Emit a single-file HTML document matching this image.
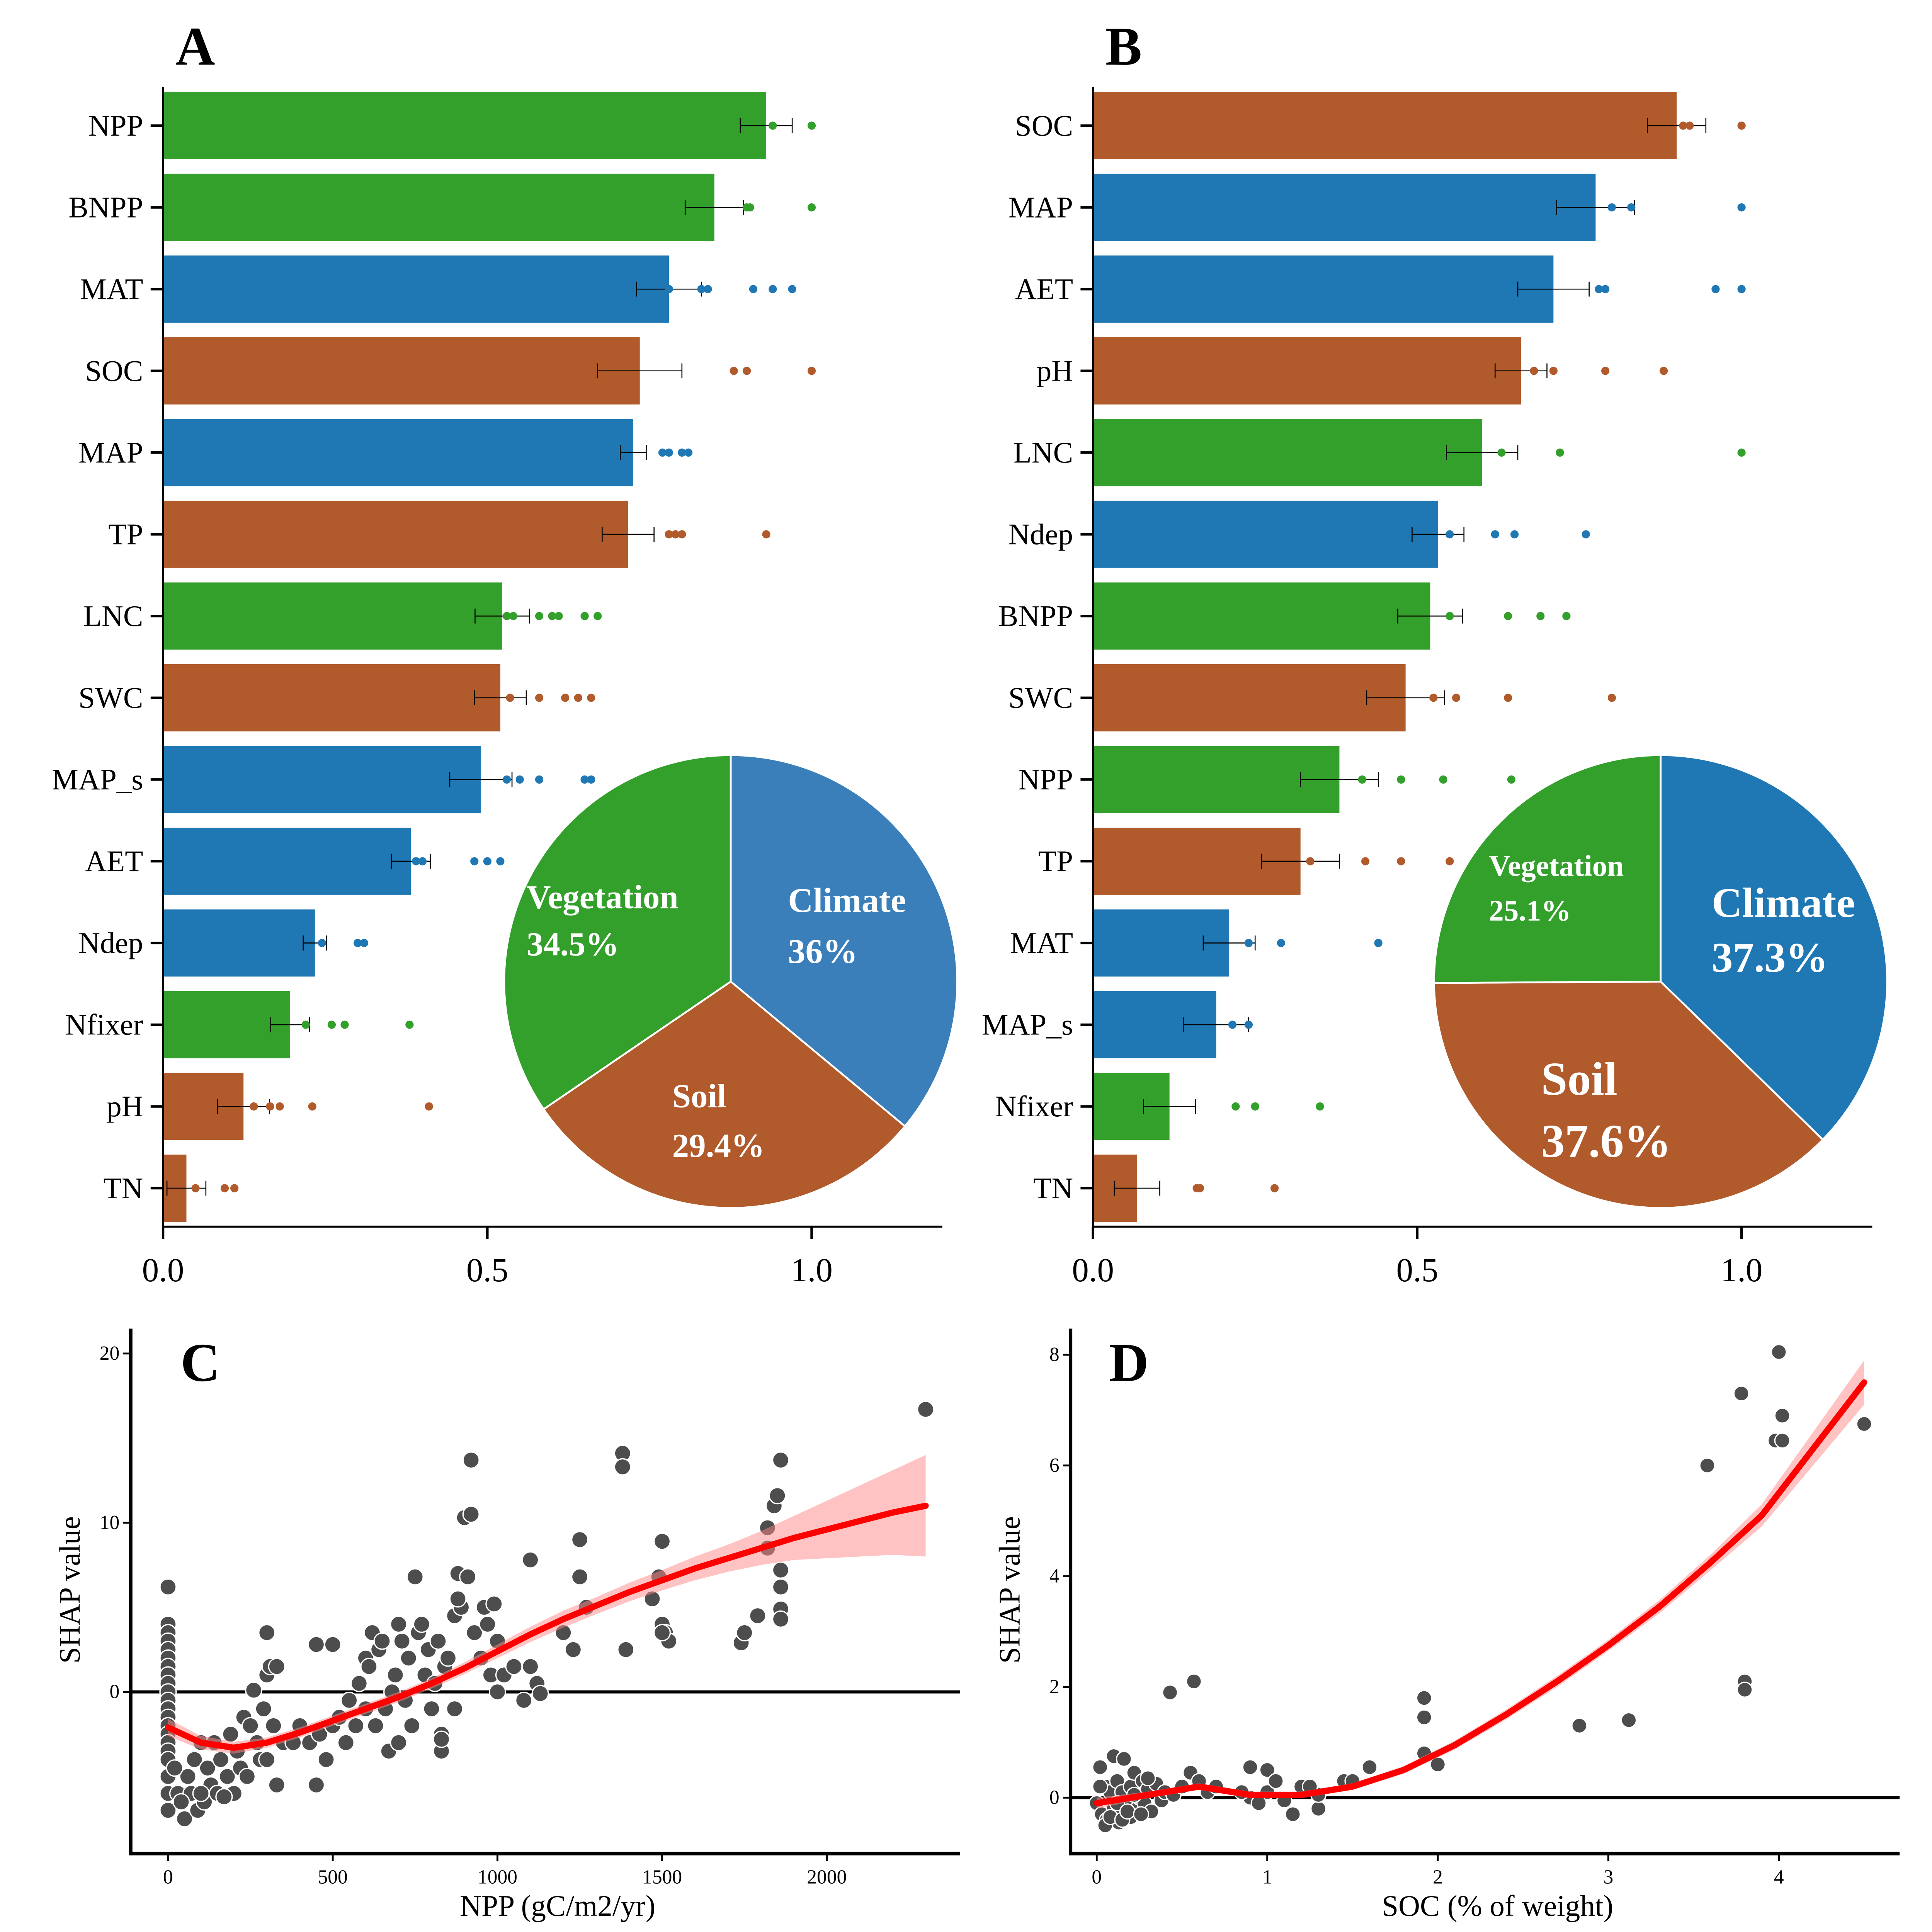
<!DOCTYPE html>
<html><head><meta charset="utf-8"><meta name="viewport" content="width=5580">
<style>
html,body{margin:0;padding:0;background:#fff;overflow:hidden;width:100vw;height:100vh}
svg{display:block;width:100vw;height:100vh}
text{font-family:"Liberation Serif",serif}
</style></head><body>
<svg id="fig" xmlns="http://www.w3.org/2000/svg" viewBox="0 0 1552 1553" preserveAspectRatio="none">
<rect width="1552" height="1553" fill="#fff"/>
<g id="gA"></g>
<g id="gB"></g>
<g id="gC"></g>
<g id="gD"></g>
</svg>
<script>
const colors={V:"#34a02c",C:"#1f78b4",S:"#b15a2b"};
// Panel A data
const catsA=["NPP","BNPP","MAT","SOC","MAP","TP","LNC","SWC","MAP_s","AET","Ndep","Nfixer","pH","TN"];
const groupA=["V","V","C","S","C","S","V","S","C","C","C","V","S","S"];
const valsA=[0.93,0.85,0.78,0.735,0.725,0.717,0.523,0.52,0.49,0.382,0.234,0.196,0.124,0.036];
const errA=[0.04,0.045,0.05,0.065,0.02,0.04,0.042,0.04,0.048,0.03,0.018,0.03,0.04,0.03];
const dotsA=[[0.94,1.0],[0.90,0.905,1.0],[0.78,0.83,0.84,0.91,0.94,0.97],[0.88,0.90,1.0],[0.77,0.78,0.80,0.81],[0.78,0.79,0.80,0.93],[0.53,0.54,0.58,0.60,0.61,0.65,0.67],[0.535,0.58,0.62,0.64,0.66],[0.53,0.55,0.58,0.65,0.66],[0.39,0.40,0.48,0.50,0.52],[0.245,0.30,0.31],[0.22,0.26,0.28,0.38],[0.14,0.165,0.18,0.23,0.41],[0.05,0.095,0.11]];
const pieA=[36,29.4,34.5];
// Panel B data
const catsB=["SOC","MAP","AET","pH","LNC","Ndep","BNPP","SWC","NPP","TP","MAT","MAP_s","Nfixer","TN"];
const groupB=["S","C","C","S","V","C","V","S","V","S","C","C","V","S"];
const valsB=[0.90,0.775,0.71,0.66,0.60,0.532,0.52,0.482,0.38,0.32,0.21,0.19,0.118,0.068];
const errB=[0.045,0.06,0.055,0.04,0.055,0.04,0.05,0.06,0.06,0.06,0.04,0.05,0.04,0.035];
const dotsB=[[0.91,0.92,1.0],[0.80,0.83,1.0],[0.78,0.79,0.96,1.0],[0.68,0.71,0.79,0.88],[0.63,0.72,1.0],[0.55,0.62,0.65,0.76],[0.55,0.64,0.69,0.73],[0.525,0.56,0.64,0.80],[0.415,0.475,0.54,0.645],[0.335,0.42,0.475,0.55],[0.24,0.29,0.44],[0.215,0.24],[0.22,0.25,0.35],[0.16,0.165,0.28]];
const pieB=[37.3,37.6,25.1];
const barTicks=[0,0.5,1.0];
const barTickLabels=["0.0","0.5","1.0"];
// Panel C data
const cX=[0,0,0,0,0,0,0,0,0,0,0,0,0,0,0,0,0,0,0,0,0,30,50,60,70,80,90,100,110,120,130,140,150,160,180,190,200,210,220,230,240,250,260,270,280,290,300,300,310,320,330,330,350,380,400,430,450,450,460,480,500,500,520,540,550,570,580,600,600,610,620,630,640,650,660,670,680,690,700,700,710,720,730,740,750,760,770,780,790,800,810,820,830,840,850,870,880,890,900,910,920,920,930,950,960,970,980,990,1000,1000,1020,1050,1080,1100,1100,1120,1130,1200,1230,1250,1250,1270,1380,1380,1390,1470,1490,1500,1500,1510,1520,1740,1750,1790,1820,1840,1850,1860,1860,1860,1860,1860,2300,1820,1500,20,40,100,170,300,830,830,870,880];
const cY=[6.2,4,3.5,3,2.5,2,1.5,1,0.5,0,-0.5,-1,-1.5,-2,-2.5,-3,-3.5,-4,-5,-6,-7,-6,-7.5,-5,-6,-4,-7,-3,-6.5,-4.5,-5.5,-3,-6,-4,-5,-2.5,-6,-3.5,-4.5,-1.5,-5,-2,0.1,-3,-4,-1,1,3.5,1.5,-2,1.5,-5.5,-3,-3,-2,-3,-5.5,2.8,-2.5,-4,2.8,-2,-1.5,-3,-0.5,-2,0.5,-1,2,1.5,3.5,-2,2.5,3,-1,-3.5,0,1,-3,4,3,-0.5,2,-2,6.8,3.5,4,1,2.5,-1,0.5,3,-2.5,1.5,2,4.5,7,5,10.3,6.8,13.7,10.5,3.5,2,5,4,1,5.2,0,3,1,1.5,-0.5,7.8,1.5,0.5,-0.1,3.5,2.5,9,6.8,5,14.1,13.3,2.5,5.5,6.8,4,8.9,3.5,3,2.9,3.5,4.5,9.7,11,11.6,13.7,7.2,6.2,4.9,4.3,16.7,8.5,3.5,-4.5,-6.5,-6,-6.2,-4,-3.5,-2.8,-1,5.5];
const cFitX=[0,100,200,300,400,500,600,700,800,900,1000,1100,1200,1300,1400,1500,1600,1700,1800,1900,2000,2100,2200,2300];
const cFitY=[-2.1,-3.0,-3.3,-3.0,-2.4,-1.7,-1.0,-0.3,0.5,1.4,2.4,3.4,4.3,5.1,5.9,6.6,7.3,7.9,8.5,9.1,9.6,10.1,10.6,11.0];
const cFitSE=[0.5,0.4,0.35,0.3,0.3,0.3,0.3,0.3,0.3,0.35,0.4,0.45,0.5,0.5,0.55,0.6,0.7,0.8,1.0,1.3,1.7,2.1,2.5,3.0];
const cXTicks=[0,500,1000,1500,2000];
const cYTicks=[0,10,20];
// Panel D data
const dX=[0,0.02,0.03,0.05,0.06,0.08,0.1,0.1,0.12,0.13,0.15,0.16,0.18,0.2,0.2,0.22,0.24,0.25,0.27,0.28,0.3,0.32,0.35,0.38,0.4,0.45,0.5,0.55,0.6,0.65,0.7,0.05,0.08,0.12,0.15,0.18,0.22,0.26,0.3,0.02,0.43,0.57,0.9,1.0,1.15,1.3,1.45,1.6,1.92,1.92,1.92,2.0,2.83,3.12,3.58,3.78,3.8,3.8,3.98,4.0,4.02,4.02,4.5,0.9,1.0,1.1,1.2,1.3,0.95,1.05,0.85,1.25,1.5];
const dY=[-0.1,0.55,-0.3,0.2,-0.4,0.1,0.75,-0.2,0.3,-0.45,0.1,0.7,-0.1,0.2,-0.35,0.45,-0.2,0.0,0.3,-0.1,0.15,-0.25,0.25,-0.05,0.1,0.05,0.2,0.45,0.3,0.1,0.2,-0.5,-0.35,-0.1,-0.4,-0.25,0.05,-0.3,0.35,0.2,1.9,2.1,0.55,0.5,-0.3,-0.2,0.3,0.55,1.8,1.45,0.8,0.6,1.3,1.4,6.0,7.3,2.1,1.95,6.45,8.05,6.9,6.45,6.75,0.0,0.1,-0.05,0.2,0.05,-0.1,0.3,0.1,0.2,0.3];
const dFitX=[0,0.3,0.6,0.9,1.2,1.5,1.8,2.1,2.4,2.7,3.0,3.3,3.6,3.9,4.2,4.5];
const dFitY=[-0.1,0.05,0.2,0.05,0.05,0.2,0.5,0.95,1.5,2.1,2.75,3.45,4.25,5.1,6.3,7.5];
const dFitSE=[0.1,0.06,0.06,0.06,0.06,0.06,0.07,0.08,0.09,0.1,0.1,0.12,0.14,0.2,0.3,0.4];
const dXTicks=[0,1,2,3,4];
const dYTicks=[0,2,4,6,8];

const NS="http://www.w3.org/2000/svg";
function mk(parent,tag,attrs,txt){const e=document.createElementNS(NS,tag);for(const k in attrs)e.setAttribute(k,attrs[k]);if(txt!==undefined)e.textContent=txt;parent.appendChild(e);return e;}

function barPanel(g,x0,cats,groups,vals,errs,dots,pie,pieNames,pieLbl,letter){
  const sx=v=>x0+v*521; const sy=i=>101+i*65.7;
  const lt=mk(g,"text",{x:x0+10,y:52,"font-size":44,"font-weight":"bold","font-family":"Liberation Sans, sans-serif"},letter);
  
  
  cats.forEach((c,i)=>{
    const b=mk(g,"rect",{x:sx(0),y:sy(i)-27,width:sx(vals[i])-sx(0),height:54,fill:colors[groups[i]]});
    
    
    const eb=mk(g,"path",{d:`M${sx(vals[i]-errs[i])},${sy(i)}H${sx(vals[i]+errs[i])}M${sx(vals[i]-errs[i])},${sy(i)-6}v12M${sx(vals[i]+errs[i])},${sy(i)-6}v12`,stroke:"#000","stroke-width":0.8,fill:"none"});
    
    
    dots[i].forEach(d=>{const p=mk(g,"circle",{cx:sx(d),cy:sy(i),r:3.3,fill:colors[groups[i]]});
      
      });
    mk(g,"line",{x1:x0-10,x2:x0,y1:sy(i),y2:sy(i),stroke:"#000","stroke-width":2});
    const t=mk(g,"text",{x:x0-16,y:sy(i)+8,"font-size":24,"text-anchor":"end"},c);
    
    
  });
  const ax=mk(g,"path",{d:`M${x0},70V986H${x0+626}`,stroke:"#000","stroke-width":1.6,fill:"none"});
  
  
  barTicks.forEach((v,k)=>{mk(g,"line",{x1:sx(v),x2:sx(v),y1:986,y2:996,stroke:"#000","stroke-width":2});
    const t=mk(g,"text",{x:sx(v),y:1030,"font-size":27,"text-anchor":"middle"},barTickLabels[k]);
    
    });
  const cx=x0+456,cy=789,r=182; let a=-Math.PI/2; const tot=pie.reduce((s,v)=>s+v,0);
  const pc=[pieNames[0][2],colors.S,colors.V];
  pie.forEach((v,k)=>{const a2=a+v/tot*2*Math.PI;const large=(a2-a)>Math.PI?1:0;
    const p=mk(g,"path",{d:`M${cx},${cy}L${cx+r*Math.cos(a)},${cy+r*Math.sin(a)}A${r},${r} 0 ${large} 1 ${cx+r*Math.cos(a2)},${cy+r*Math.sin(a2)}Z`,fill:pc[k],stroke:"#fff","stroke-width":1.5});
    
    
    a=a2;});
  pieLbl.forEach((L,k)=>{const t1=mk(g,"text",{x:L[0],y:L[1],"font-size":L[2],"font-weight":"bold",fill:"#fff"},pieNames[k][0]);
    
    
    const t2=mk(g,"text",{x:L[0],y:L[1]+L[3],"font-size":L[2],"font-weight":"bold",fill:"#fff"},pie[k]+"%");
    
    });
}
barPanel(document.getElementById("gA"),131,catsA,groupA,valsA,errA,dotsA,pieA,[["Climate",0,"#3a7fb9"],["Soil"],["Vegetation"]],[[633,733,28,41],[540,890,27,40],[423,730,27,38]],"A");
barPanel(document.getElementById("gB"),878,catsB,groupB,valsB,errB,dotsB,pieB,[["Climate",0,colors.C],["Soil"],["Vegetation"]],[[1375,737,34,44],[1238,880,38,50],[1196,704,24,36]],"B");

function scatter(g,X0,X1,Y0,Y1,xs,ys,xT,yT,xs_,ys_,fx,fy,fse,letter,xlab,r){
  const sx=v=>X0+(v-xs_[0])*(xs_[1]); const sy=v=>Y0-(v-ys_[0])*ys_[1];
  const lt=mk(g,"text",{x:X0+10,y:1110,"font-size":44,"font-weight":"bold","font-family":"Liberation Sans, sans-serif"},letter);
  
  
  const zl=mk(g,"line",{x1:X1-666,x2:X1,y1:sy(0),y2:sy(0),stroke:"#000","stroke-width":2.5});
  
  
  xs.forEach((v,i)=>{const c=mk(g,"circle",{cx:sx(v),cy:sy(ys[i]),r:r,fill:"#4d4d4d",stroke:"#fff","stroke-width":1});
    
    });
  let up=fx.map((v,i)=>`${sx(v)},${sy(fy[i]+fse[i])}`), dn=fx.map((v,i)=>`${sx(v)},${sy(fy[i]-fse[i])}`).reverse();
  const rb=mk(g,"polygon",{points:up.concat(dn).join(" "),fill:"#f88","fill-opacity":0.5});
  
  
  const ln=mk(g,"polyline",{points:fx.map((v,i)=>`${sx(v)},${sy(fy[i])}`).join(" "),fill:"none",stroke:"#f00","stroke-width":5,"stroke-linejoin":"round","stroke-linecap":"round"});
  
  
  const xl=X1-666;
  const ax=mk(g,"path",{d:`M${xl},1068V1490H${X1}`,stroke:"#000","stroke-width":2.8,fill:"none"});
  
  
  xT.forEach(v=>{mk(g,"line",{x1:sx(v),x2:sx(v),y1:1490,y2:1496,stroke:"#000","stroke-width":1.5});
    const t=mk(g,"text",{x:sx(v),y:1514,"font-size":16,"text-anchor":"middle"},String(v));
    
    });
  yT.forEach(v=>{mk(g,"line",{x1:xl-6,x2:xl,y1:sy(v),y2:sy(v),stroke:"#000","stroke-width":1.5});
    const t=mk(g,"text",{x:xl-9,y:sy(v)+5,"font-size":16,"text-anchor":"end"},String(v));
    
    });
  const xt=mk(g,"text",{x:(xl+X1)/2+10,y:1540,"font-size":24,"text-anchor":"middle"},xlab);
  
  
  const yt=mk(g,"text",{x:0,y:0,"font-size":24,"text-anchor":"middle",transform:`translate(${xl-41},1278) rotate(-90)`},"SHAP value");
  
  
}
scatter(document.getElementById("gC"),135,771,1360,0,cX,cY,cXTicks,cYTicks,[0,0.2646],[0,13.6],cFitX,cFitY,cFitSE,"C","NPP (gC/m2/yr)",6.5);
scatter(document.getElementById("gD"),881,1526,1445,0,dX,dY,dXTicks,dYTicks,[0,137],[0,44.5],dFitX,dFitY,dFitSE,"D","SOC (% of weight)",6);
</script>
</body></html>
